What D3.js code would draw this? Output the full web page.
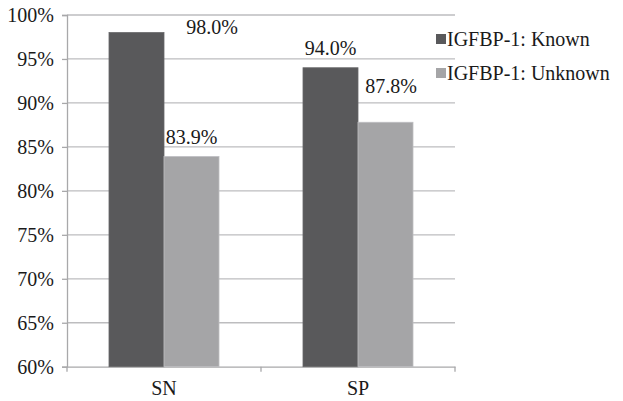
<!DOCTYPE html>
<html>
<head>
<meta charset="utf-8">
<script src="https://cdn.jsdelivr.net/npm/d3@7"></script>
</head>
<body style="margin:0;background:#fff">
<script>
// Diagnostic accuracy of IGFBP-1 testing
const categories = ["SN", "SP"];
const seriesNames = ["IGFBP-1: Known", "IGFBP-1: Unknown"];
const knownValues = [98.0, 94.0];
const unknownValues = [83.9, 87.8];
const yTicks = [60, 65, 70, 75, 80, 85, 90, 95, 100];

const colors = ["#59595b", "#a5a5a7"];
const seriesValues = [knownValues, unknownValues];
const FONT = "Liberation Serif";
const TEXT = "#1a1a1a";

const svg = d3.select("body").append("svg")
  .attr("width", 623).attr("height", 401)
  .style("display", "block");
const plot = { left: 67, right: 455, top: 15, bottom: 366.7 };

const y = d3.scaleLinear().domain([60, 100]).range([plot.bottom, plot.top]);
const x = d3.scaleBand().domain(categories)
  .range([plot.left, plot.right])
  .paddingInner(0.433).paddingOuter(0.2165);
const xs = d3.scaleBand().domain(seriesNames).range([0, x.bandwidth()]);

function textStyle(sel) {
  sel.attr("font-family", FONT).style("font-family", FONT)
     .attr("font-size", 20).style("font-size", "20px")
     .attr("fill", TEXT);
}

// gridlines
svg.append("g").selectAll("line").data(yTicks.slice(1)).join("line")
  .attr("x1", plot.left).attr("x2", plot.right)
  .attr("y1", d => y(d)).attr("y2", d => y(d))
  .attr("stroke", "#bdbdbf").attr("stroke-width", 1.3);

// y axis
const yAxis = d3.axisLeft(y).tickValues(yTicks).tickSize(5).tickPadding(8)
  .tickFormat(d => d + "%");
const gy = svg.append("g").attr("transform", `translate(${plot.left},0)`).call(yAxis);
gy.attr("font-family", FONT);
gy.select(".domain").attr("stroke", "#a8a8aa").attr("stroke-width", 1.3);
gy.selectAll(".tick line").attr("stroke", "#a8a8aa").attr("stroke-width", 1.3);
gy.selectAll(".tick text").call(textStyle);

// x axis
const xAxis = d3.axisBottom(x).tickSize(0).tickPadding(14);
const gx = svg.append("g").attr("transform", `translate(0,${plot.bottom})`).call(xAxis);
gx.attr("font-family", FONT);
gx.select(".domain").attr("stroke", "#a8a8aa").attr("stroke-width", 1.3);
gx.selectAll(".tick text").call(textStyle);
// category boundary ticks
const bounds = [plot.left, plot.left + x.step(), plot.right];
svg.append("g").selectAll("line").data(bounds).join("line")
  .attr("x1", d => d).attr("x2", d => d)
  .attr("y1", plot.bottom).attr("y2", plot.bottom + 5)
  .attr("stroke", "#a8a8aa").attr("stroke-width", 1.3);

// bars
const rows = [];
categories.forEach((c, i) => {
  seriesNames.forEach((s, j) => rows.push({ cat: c, series: s, j, value: seriesValues[j][i] }));
});

svg.append("g").selectAll("rect").data(rows).join("rect")
  .attr("x", d => x(d.cat) + xs(d.series))
  .attr("y", d => y(d.value))
  .attr("width", xs.bandwidth())
  .attr("height", d => plot.bottom - y(d.value))
  .attr("fill", d => colors[d.j])
  .attr("stroke", d => d3.color(colors[d.j]).brighter(0.4))
  .attr("stroke-width", 0.8);

// value labels; two are nudged off their bars to clear neighbouring marks
const labelNudge = { "SN|0": [75.5, 14.3], "SP|1": [5.5, -16.6] };
const nudge = d => labelNudge[d.cat + "|" + d.j] || [0, 0];
svg.selectAll("text.value").data(rows).join("text")
  .attr("class", "value")
  .attr("x", d => x(d.cat) + xs(d.series) + xs.bandwidth() / 2 + nudge(d)[0])
  .attr("y", d => y(d.value) - 13 + nudge(d)[1])
  .attr("text-anchor", "middle")
  .call(textStyle)
  .text(d => d.value.toFixed(1) + "%");

// legend
const legendX = 436, legendY = 33, legendRow = 34;
svg.selectAll("rect.swatch").data(seriesNames).join("rect")
  .attr("class", "swatch")
  .attr("x", legendX).attr("y", (d, j) => legendY + 1 + j * legendRow)
  .attr("width", 10).attr("height", 10)
  .attr("fill", (d, j) => colors[j]);
svg.selectAll("text.legend").data(seriesNames).join("text")
  .attr("class", "legend")
  .attr("x", legendX + 11).attr("y", (d, j) => legendY + 12.5 + j * legendRow)
  .call(textStyle)
  .text(d => d);
</script>
</body>
</html>
